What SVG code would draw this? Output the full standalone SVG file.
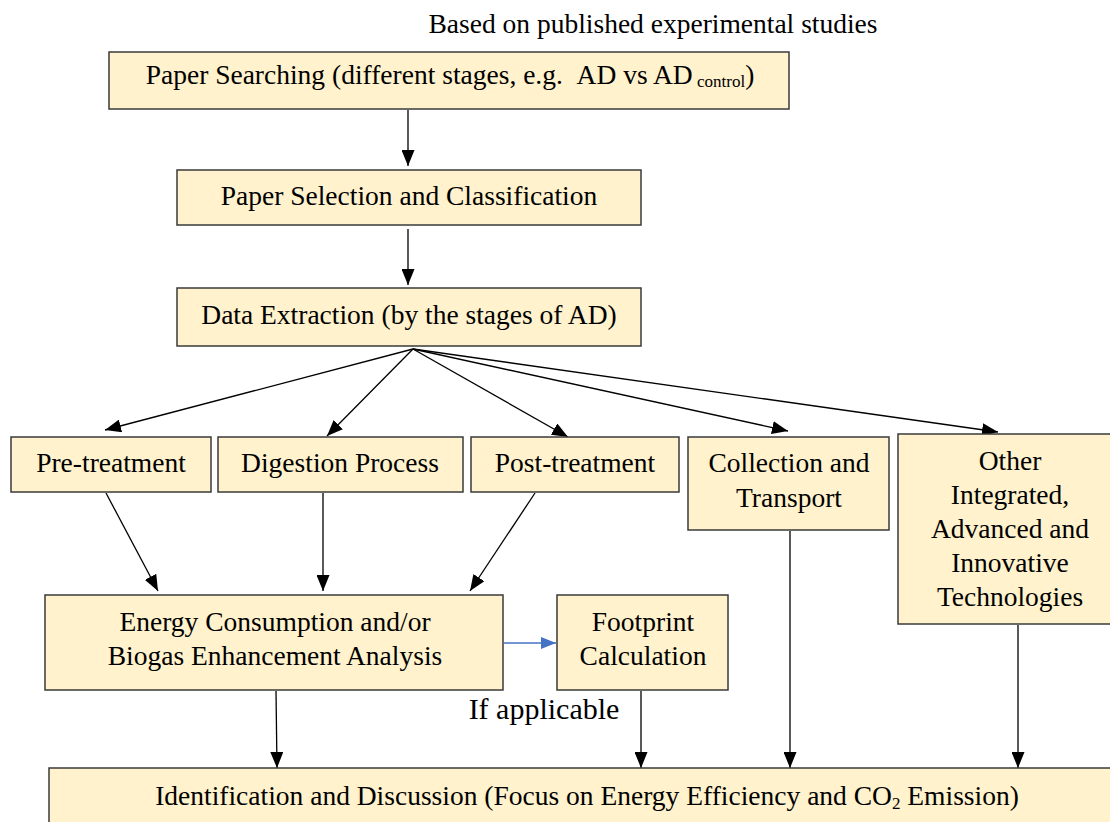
<svg xmlns="http://www.w3.org/2000/svg" width="1110" height="822" viewBox="0 0 1110 822">
<defs>
<marker id="ah" markerWidth="16" markerHeight="13" refX="16" refY="6.5" orient="auto" markerUnits="userSpaceOnUse"><path d="M0,0 L16,6.5 L0,13 Z" fill="#000"/></marker>
<marker id="ahb" markerWidth="15" markerHeight="12" refX="15" refY="6" orient="auto" markerUnits="userSpaceOnUse"><path d="M0,0 L15,6 L0,12 Z" fill="#4472C4"/></marker>
<style>
.box{fill:#FFF2CC;stroke:#3a3a3a;stroke-width:1.5}
.t{font-family:"Liberation Serif","Times New Roman",serif;font-size:27.5px;fill:#000;text-anchor:middle}
.big{font-size:30px}
.c{stroke:#000;stroke-width:1.3;fill:none;marker-end:url(#ah)}
.cb{stroke:#4472C4;stroke-width:1.5;fill:none;marker-end:url(#ahb)}
</style>
</defs>
<rect width="1110" height="822" fill="#fff"/>
<text class="t" x="653" y="33">Based on published experimental studies</text>
<g id="connectors">
<line class="c" x1="408" y1="110" x2="408" y2="166"/>
<line class="c" x1="408" y1="229" x2="408" y2="285"/>
<line class="c" x1="413" y1="349" x2="105" y2="430"/>
<line class="c" x1="413" y1="349" x2="327" y2="436"/>
<line class="c" x1="413" y1="349" x2="568" y2="437"/>
<line class="c" x1="413" y1="349" x2="788" y2="431"/>
<line class="c" x1="413" y1="349" x2="998" y2="432"/>
<line class="c" x1="106" y1="493" x2="158" y2="591"/>
<line class="c" x1="323" y1="493" x2="323" y2="591"/>
<line class="c" x1="535" y1="493" x2="470" y2="591"/>
<line class="cb" x1="504" y1="643" x2="556" y2="643"/>
<line class="c" x1="276" y1="691" x2="277" y2="768"/>
<line class="c" x1="641" y1="691" x2="641" y2="768"/>
<line class="c" x1="790" y1="531" x2="790" y2="768"/>
<line class="c" x1="1018" y1="625" x2="1018" y2="768"/>
</g>
<g id="paper-searching">
<rect class="box" x="109" y="52" width="680" height="57"/>
<text class="t" x="450" y="84">Paper Searching (different stages, e.g. &#160;AD vs AD<tspan style="font-size:17px" dy="3"> control</tspan><tspan dy="-3">)</tspan></text>
</g>
<g id="paper-selection">
<rect class="box" x="177" y="170" width="464" height="55"/>
<text class="t" x="409" y="205">Paper Selection and Classification</text>
</g>
<g id="data-extraction">
<rect class="box" x="177" y="288" width="464" height="58"/>
<text class="t" x="409" y="324">Data Extraction (by the stages of AD)</text>
</g>
<g id="pre-treatment">
<rect class="box" x="11" y="437" width="200" height="55"/>
<text class="t" x="111" y="472">Pre-treatment</text>
</g>
<g id="digestion">
<rect class="box" x="218" y="437" width="245" height="55"/>
<text class="t" x="340" y="472">Digestion Process</text>
</g>
<g id="post-treatment">
<rect class="box" x="471" y="437" width="208" height="55"/>
<text class="t" x="575" y="472">Post-treatment</text>
</g>
<g id="collection">
<rect class="box" x="688" y="437" width="201" height="93"/>
<text class="t" x="789" y="472">Collection and</text>
<text class="t" x="789" y="507">Transport</text>
</g>
<g id="other">
<rect class="box" x="898" y="434" width="214" height="190"/>
<text class="t" x="1010" y="470">Other</text>
<text class="t" x="1010" y="504">Integrated,</text>
<text class="t" x="1010" y="538">Advanced and</text>
<text class="t" x="1010" y="572">Innovative</text>
<text class="t" x="1010" y="606">Technologies</text>
</g>
<g id="energy">
<rect class="box" x="45" y="595" width="458" height="95"/>
<text class="t" x="275" y="631">Energy Consumption and/or</text>
<text class="t" x="275" y="665">Biogas Enhancement Analysis</text>
</g>
<g id="footprint">
<rect class="box" x="557" y="595" width="171" height="95"/>
<text class="t" x="643" y="631">Footprint</text>
<text class="t" x="643" y="665">Calculation</text>
</g>
<text class="t big" x="544" y="719">If applicable</text>
<g id="identification">
<rect class="box" x="49" y="768" width="1063" height="56"/>
<text class="t" x="587" y="805">Identification and Discussion (Focus on Energy Efficiency and CO<tspan style="font-size:17px" dy="4">2</tspan><tspan dy="-4"> Emission)</tspan></text>
</g>
</svg>
